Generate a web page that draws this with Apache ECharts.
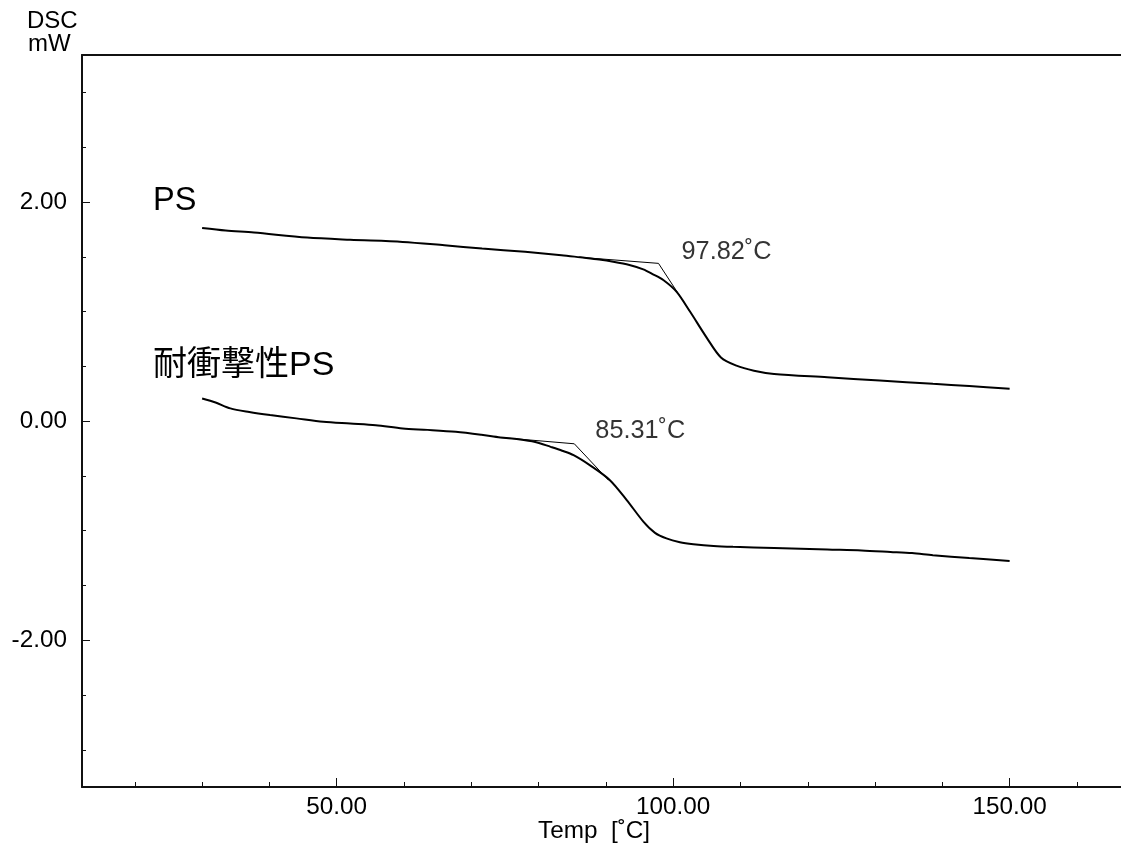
<!DOCTYPE html>
<html>
<head>
<meta charset="utf-8">
<script src="https://cdn.jsdelivr.net/npm/echarts@6/dist/echarts.min.js"></script>
<style>html,body{margin:0;padding:0;background:#fff;}#c{width:1121px;height:855px;}</style>
</head>
<body>
<div id="c"></div>
<script>
// ---- data ----
const tempPS = [30, 33.5, 37.7, 45.6, 52, 59.8, 66, 71.6, 78, 83.4, 86.2, 89, 91.1, 93.5, 95.56, 97.0, 98.53, 100.52, 102.5, 105.0, 107.1, 109.4, 112, 115, 122.9, 130.7, 138.6, 144, 150];
const dscPS  = [1.763, 1.74, 1.721, 1.675, 1.655, 1.636, 1.605, 1.575, 1.545, 1.515, 1.495, 1.475, 1.455, 1.425, 1.385, 1.34, 1.288, 1.18, 1.0, 0.76, 0.581, 0.506, 0.46, 0.430, 0.400, 0.370, 0.340, 0.32, 0.295];

const tempHI = [30, 32, 34.2, 37, 40.1, 44, 48.0, 52, 55.8, 59.8, 63.5, 67.7, 71.5, 74.3, 77, 79.5, 81.8, 83.5, 85.2, 87.6, 90.6, 93.1, 95.6, 97.3, 99.0, 101, 103, 106, 108.9, 115, 122.9, 128, 132.3, 135.5, 138.6, 144, 150];
const dscHI  = [0.207, 0.17, 0.116, 0.083, 0.055, 0.025, -0.006, -0.022, -0.037, -0.067, -0.08, -0.098, -0.125, -0.149, -0.165, -0.19, -0.235, -0.27, -0.311, -0.402, -0.539, -0.721, -0.92, -1.02, -1.071, -1.105, -1.123, -1.14, -1.148, -1.158, -1.172, -1.18, -1.194, -1.205, -1.224, -1.25, -1.276];

// onset tangent construction lines (baseline start, onset, steep end)
const tangentPS_T = [86.0, 97.82, 102.5];
const tangentPS_V = [1.496, 1.44, 1.0];
const tangentHI_T = [74.0, 85.31, 90.4];
const tangentHI_V = [-0.148, -0.207, -0.54];

const onsetLabels = ['97.82˚C', '85.31˚C'];
const seriesNames = ['PS', '耐衝撃性PS'];

const xLabelTicks = [50, 100, 150];
const xMinorTicks = [20, 30, 40, 50, 60, 70, 80, 90, 100, 110, 120, 130, 140, 150, 160];
const yLabelTicks = [-2, 0, 2];
const yMinorTicks = [-3, -2.5, -2, -1.5, -1, -0.5, 0, 0.5, 1, 1.5, 2, 2.5, 3];

const X_MIN = 12.15, X_MAX = 166.55, Y_MIN = -3.34, Y_MAX = 3.342;

// ---- chart ----
const FONT = '"Liberation Sans", Arial, Helvetica, sans-serif';
const CJK = '"Liberation Sans", "Noto Sans CJK JP", sans-serif';
const zip = (a, b) => a.map((t, i) => [t, b[i]]);

const chart = echarts.init(document.getElementById('c'), null, {renderer: 'canvas'});
const axisLineStyle = {color: '#111', width: 2};

const option = {
  animation: false,
  backgroundColor: '#fff',
  grid: {left: 82, right: 0, top: 55, bottom: 68, containLabel: false},
  xAxis: [
    {
      type: 'value', min: X_MIN, max: X_MAX, position: 'bottom',
      axisLine: {show: true, onZero: false, lineStyle: axisLineStyle},
      axisTick: {show: true, inside: true, length: 9, customValues: xLabelTicks, lineStyle: {color: '#111', width: 1}},
      axisLabel: {show: true, customValues: xLabelTicks, margin: 8, color: '#000', fontSize: 24.3, fontFamily: FONT,
        formatter: v => v.toFixed(2)},
      splitLine: {show: false}
    },
    {
      type: 'value', min: X_MIN, max: X_MAX, position: 'bottom',
      axisLine: {show: false, onZero: false},
      axisTick: {show: true, inside: true, length: 5, customValues: xMinorTicks, lineStyle: {color: '#111', width: 1}},
      axisLabel: {show: false},
      splitLine: {show: false}
    },
    {
      type: 'value', min: X_MIN, max: X_MAX, position: 'top',
      axisLine: {show: true, onZero: false, lineStyle: axisLineStyle},
      axisTick: {show: false}, axisLabel: {show: false}, splitLine: {show: false}
    }
  ],
  yAxis: [
    {
      type: 'value', min: Y_MIN, max: Y_MAX, position: 'left',
      axisLine: {show: true, onZero: false, lineStyle: axisLineStyle},
      axisTick: {show: true, inside: true, length: 8, customValues: yLabelTicks, lineStyle: {color: '#111', width: 1}},
      axisLabel: {show: true, customValues: yLabelTicks, margin: 15, color: '#000', fontSize: 24.3, fontFamily: FONT,
        formatter: v => v.toFixed(2)},
      splitLine: {show: false}
    },
    {
      type: 'value', min: Y_MIN, max: Y_MAX, position: 'left',
      axisLine: {show: false, onZero: false},
      axisTick: {show: true, inside: true, length: 4, customValues: yMinorTicks, lineStyle: {color: '#111', width: 1}},
      axisLabel: {show: false},
      splitLine: {show: false}
    }
  ],
  series: [
    {
      name: seriesNames[0], type: 'line', data: zip(tempPS, dscPS), showSymbol: false, smooth: 0.3,
      lineStyle: {color: '#000', width: 2}, z: 3
    },
    {
      name: seriesNames[1], type: 'line', data: zip(tempHI, dscHI), showSymbol: false, smooth: 0.3,
      lineStyle: {color: '#000', width: 2}, z: 3
    },
    {
      type: 'line', data: zip(tangentPS_T, tangentPS_V), showSymbol: false,
      lineStyle: {color: '#000', width: 1}, z: 4
    },
    {
      type: 'line', data: zip(tangentHI_T, tangentHI_V), showSymbol: false,
      lineStyle: {color: '#000', width: 1}, z: 4
    },
    {
      type: 'scatter', symbolSize: 0,
      data: [
        {value: [tangentPS_T[1], tangentPS_V[1]], label: {formatter: onsetLabels[0], offset: [23, -11]}},
        {value: [tangentHI_T[1], tangentHI_V[1]], label: {formatter: onsetLabels[1], offset: [21, -13]}}
      ],
      label: {show: true, position: 'right', distance: 0, color: '#000', fontSize: 25.3, fontFamily: FONT},
      z: 5
    }
  ],
  graphic: [
    {type: 'text', left: 27, top: 9, style: {text: 'DSC', fontSize: 24, fontFamily: FONT, fill: '#000'}},
    {type: 'text', left: 28, top: 32, style: {text: 'mW', fontSize: 24, fontFamily: FONT, fill: '#000'}},
    {type: 'text', left: 153, top: 185, style: {text: seriesNames[0], fontSize: 32.5, fontFamily: FONT, fill: '#000'}},
    {type: 'text', left: 153, top: 349, style: {text: seriesNames[1], fontSize: 34, fontFamily: CJK, fill: '#000'}},
    {type: 'text', left: 538, top: 819, style: {text: 'Temp  [˚C]', fontSize: 24.3, fontFamily: FONT, fill: '#000'}}
  ]
};
chart.setOption(option);
</script>
</body>
</html>
